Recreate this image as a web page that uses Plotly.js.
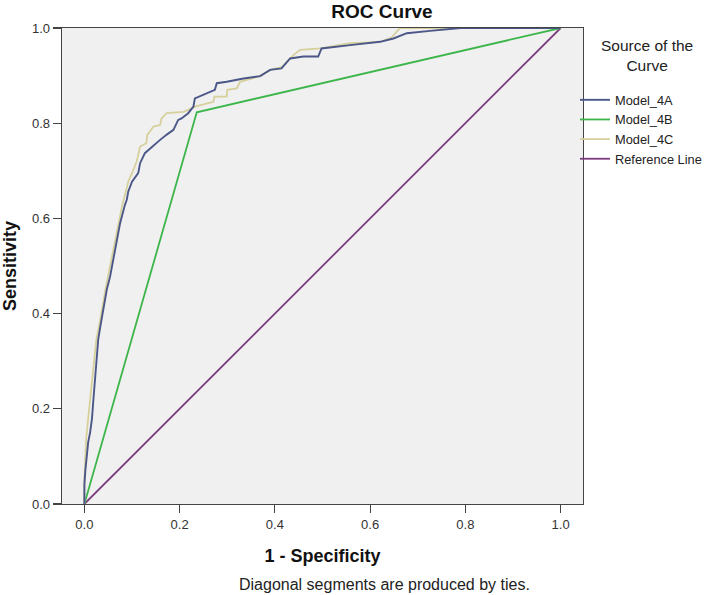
<!DOCTYPE html>
<html>
<head>
<meta charset="utf-8">
<script src="https://cdn.plot.ly/plotly-3.0.1.min.js"></script>
<style>html,body{margin:0;padding:0;background:#fff;}#chart{width:709px;height:595px;}</style>
</head>
<body>
<div id="chart"></div>
<script>
// ---- data ----
const model4A_x = [0,0,0.002,0.005,0.008,0.012,0.016,0.019,0.022,0.025,0.029,0.033,0.036,0.042,0.047,0.054,0.061,0.068,0.075,0.085,0.089,0.092,0.100,0.113,0.117,0.127,0.143,0.159,0.173,0.187,0.197,0.204,0.218,0.229,0.232,0.250,0.274,0.278,0.299,0.334,0.369,0.390,0.414,0.432,0.460,0.491,0.498,0.558,0.621,0.649,0.677,0.726,0.768,0.790,1.0];
const model4A_y = [0,0.04,0.07,0.10,0.13,0.15,0.18,0.22,0.26,0.30,0.345,0.37,0.386,0.42,0.45,0.478,0.513,0.555,0.59,0.628,0.639,0.656,0.677,0.695,0.716,0.737,0.752,0.765,0.776,0.786,0.807,0.810,0.821,0.835,0.852,0.859,0.870,0.884,0.887,0.894,0.899,0.912,0.915,0.936,0.940,0.940,0.957,0.964,0.971,0.978,0.989,0.994,0.998,1.0,1.0];

const model4B_x = [0,0.236,1.0];
const model4B_y = [0,0.823,1.0];

const model4C_x = [0,0,0.002,0.004,0.008,0.012,0.017,0.021,0.025,0.030,0.033,0.039,0.044,0.050,0.057,0.064,0.071,0.080,0.088,0.092,0.100,0.110,0.117,0.130,0.132,0.145,0.159,0.162,0.173,0.208,0.236,0.271,0.273,0.299,0.300,0.320,0.327,0.369,0.390,0.414,0.439,0.453,0.495,0.558,0.621,0.645,0.659,0.663,1.0];
const model4C_y = [0,0.05,0.10,0.14,0.18,0.22,0.26,0.30,0.345,0.37,0.39,0.42,0.45,0.48,0.515,0.555,0.59,0.63,0.66,0.677,0.695,0.72,0.751,0.758,0.775,0.793,0.796,0.810,0.821,0.824,0.836,0.845,0.856,0.856,0.870,0.873,0.887,0.899,0.912,0.918,0.943,0.954,0.957,0.968,0.971,0.980,0.996,1.0,1.0];

const ref_x = [0,1];
const ref_y = [0,1];

const seriesNames = ["Model_4A","Model_4B","Model_4C","Reference Line"];
const legendTitle = "Source of the<br>Curve";
const tickVals = [0,0.2,0.4,0.6,0.8,1.0];
const tickText = ["0.0","0.2","0.4","0.6","0.8","1.0"];

// ---- traces ----
const font = "Arial, 'Liberation Sans', sans-serif";
const traces = [
  {x: ref_x, y: ref_y, name: seriesNames[3], legendrank: 4, mode: "lines",
   line: {color: "#7b3a7d", width: 1.8}},
  {x: model4B_x, y: model4B_y, name: seriesNames[1], legendrank: 2, mode: "lines",
   line: {color: "#3cb64a", width: 1.8}},
  {x: model4C_x, y: model4C_y, name: seriesNames[2], legendrank: 3, mode: "lines",
   line: {color: "#d6d09c", width: 1.8}},
  {x: model4A_x, y: model4A_y, name: seriesNames[0], legendrank: 1, mode: "lines",
   line: {color: "#4b5788", width: 1.9}}
];

const axisCommon = {
  showgrid: false, zeroline: false, showline: true, mirror: true,
  linecolor: "#444", linewidth: 1.3, ticks: "outside", ticklen: 8,
  tickcolor: "#444", tickwidth: 1.2,
  tickvals: tickVals, ticktext: tickText,
  tickfont: {family: font, size: 13, color: "#333"}
};

const layout = {
  width: 709, height: 595,
  margin: {l: 62, r: 126, t: 28, b: 91, autoexpand: false},
  paper_bgcolor: "#ffffff",
  plot_bgcolor: "#f0f0f0",
  font: {family: font, color: "#222"},
  title: {text: "<b>ROC Curve</b>", x: 382/709, xanchor: "center", xref: "container",
          y: 1 - 11/595, yanchor: "middle", yref: "container",
          font: {family: font, size: 19, color: "#111"}},
  xaxis: Object.assign({}, axisCommon, {
    range: [-0.047, 1.047],
    title: {text: "<b>1 - Specificity</b>", standoff: 18,
            font: {family: font, size: 18, color: "#111"}}
  }),
  yaxis: Object.assign({}, axisCommon, {
    range: [0, 1],
    title: {text: "<b>Sensitivity</b>", standoff: 12,
            font: {family: font, size: 18, color: "#111"}}
  }),
  showlegend: true,
  legend: {
    x: (575-62)/521, xanchor: "left", xref: "paper",
    y: (504-85)/476, yanchor: "top",
    bgcolor: "rgba(0,0,0,0)",
    font: {family: font, size: 12.8, color: "#222"},
    tracegroupgap: 0
  },
  annotations: [
    {
      text: legendTitle,
      xref: "paper", yref: "paper",
      x: (647-62)/521, y: (504-55)/476,
      xanchor: "center", yanchor: "middle", align: "center", showarrow: false,
      font: {family: font, size: 15.5, color: "#222"}
    },
    {
      text: "Diagonal segments are produced by ties.",
      xref: "paper", yref: "paper",
      x: (384-62)/521, y: (504-584)/476,
      xanchor: "center", yanchor: "middle", showarrow: false,
      font: {family: font, size: 16, color: "#222"}
    }
  ]
};

Plotly.newPlot("chart", traces, layout, {displayModeBar: false, staticPlot: true});
</script>
</body>
</html>
